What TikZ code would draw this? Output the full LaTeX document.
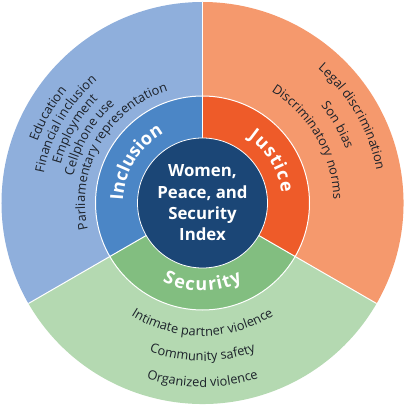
\documentclass[tikz,border=0pt]{standalone}
\usepackage{fontspec}
\usetikzlibrary{decorations.text}
\newfontfamily\osans{Open Sans}
\definecolor{blueO}{HTML}{8FAFDC}
\definecolor{blueM}{HTML}{4B86C6}
\definecolor{orangeO}{HTML}{F5996D}
\definecolor{orangeM}{HTML}{EE5B29}
\definecolor{greenO}{HTML}{B4D9B1}
\definecolor{greenM}{HTML}{82BE80}
\definecolor{navy}{HTML}{1B4676}
\definecolor{textdark}{HTML}{1C222A}
\newcommand{\outerfont}{\osans\fontsize{12.8}{15}\selectfont\color{textdark}}
\newcommand{\ringfont}{\osans\bfseries\fontsize{18}{21}\selectfont}
\tikzset{
  sep/.style={white, line width=1pt},
  arctext/.style={decorate, decoration={text along path, text align=center, text={|\outerfont|#1}}},
  ringlabel/.style={decorate, decoration={text effects along path, text={#1},
      text effects/.cd, text along path, fit text to path,
      characters={text=white, font=\ringfont, inner sep=0pt, anchor=base}}}
}
\begin{document}
\begin{tikzpicture}[x=1pt,y=1pt]
\useasboundingbox (-202.5,-203) rectangle (201.5,203);
% outer ring
\fill[blueO] (0,0) -- (90:201pt) arc[start angle=90,end angle=210,radius=201pt] -- cycle;
\fill[orangeO] (0,0) -- (-30:201pt) arc[start angle=-30,end angle=90,radius=201pt] -- cycle;
\fill[greenO] (0,0) -- (210:201pt) arc[start angle=210,end angle=330,radius=201pt] -- cycle;
% middle ring
\fill[blueM] (0,0) -- (90:107pt) arc[start angle=90,end angle=210,radius=107pt] -- cycle;
\fill[orangeM] (0,0) -- (-30:107pt) arc[start angle=-30,end angle=90,radius=107pt] -- cycle;
\fill[greenM] (0,0) -- (210:107pt) arc[start angle=210,end angle=330,radius=107pt] -- cycle;
\draw[sep] (0,0) circle[radius=107pt];
\foreach \a in {90,210,330} \draw[sep] (\a:65pt) -- (\a:201pt);
% centre
\fill[navy] (0,0) circle[radius=65pt];
\draw[sep, line width=0.8pt] (0,0) circle[radius=65pt];
\node[font=\osans\bfseries\fontsize{16.8}{21.3}\selectfont, text=white, align=center] (title) at (0,0) {Women,\\Peace, and\\Security\\Index};
% ring labels
\path[ringlabel=Inclusion] (178:79.5pt) arc[start angle=178,end angle=119,radius=79.5pt];
\path[ringlabel=Justice] (55:79.5pt) arc[start angle=55,end angle=7,radius=79.5pt];
\path[ringlabel=Security] (243:88pt) arc[start angle=243,end angle=297,radius=88pt];
% outer texts: inclusion
\path[arctext=Education] (210:176pt) arc[start angle=210,end angle=90,radius=176pt];
\path[arctext=Financial inclusion] (210:161.5pt) arc[start angle=210,end angle=90,radius=161.5pt];
\path[arctext=Employment] (210:147pt) arc[start angle=210,end angle=90,radius=147pt];
\path[arctext=Cellphone use] (210:132pt) arc[start angle=210,end angle=90,radius=132pt];
\path[arctext=Parliamentary representation] (210:117.5pt) arc[start angle=210,end angle=90,radius=117.5pt];
% justice
\path[arctext=Legal discrimination] (90:177pt) arc[start angle=90,end angle=-30,radius=177pt];
\path[arctext=Son bias] (90:153pt) arc[start angle=90,end angle=-30,radius=153pt];
\path[arctext=Discriminatory norms] (90:131pt) arc[start angle=90,end angle=-30,radius=131pt];
% security
\path[arctext=Intimate partner violence] (210:133pt) arc[start angle=210,end angle=330,radius=133pt];
\path[arctext=Community safety] (210:158pt) arc[start angle=210,end angle=330,radius=158pt];
\path[arctext=Organized violence] (210:184pt) arc[start angle=210,end angle=330,radius=184pt];
\end{tikzpicture}
\end{document}
